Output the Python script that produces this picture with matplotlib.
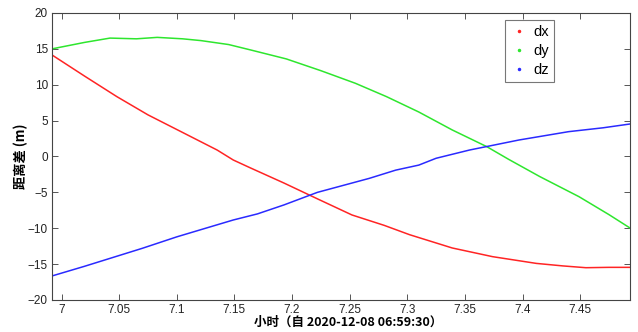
import numpy as np
import matplotlib
matplotlib.use("Agg")
import matplotlib.pyplot as plt
from matplotlib.lines import Line2D

plt.rcParams['font.family'] = ['Liberation Sans', 'Noto Sans CJK SC', 'DejaVu Sans']

# 读图得到的数据 (小时, 米)
dx_t = [6.9917, 7.02, 7.048, 7.075, 7.106, 7.135, 7.149, 7.164, 7.193, 7.222,
        7.252, 7.28, 7.302, 7.339, 7.374, 7.412, 7.435, 7.455, 7.475, 7.4933]
dx_v = [14.15, 11.2, 8.34, 5.8, 3.27, 0.9, -0.49, -1.6, -3.7, -5.9,
        -8.15, -9.6, -10.9, -12.75, -13.96, -14.9, -15.25, -15.5, -15.45, -15.45]

dy_t = [6.9917, 7.02, 7.042, 7.065, 7.083, 7.105, 7.121, 7.145, 7.164, 7.195, 7.225,
        7.255, 7.282, 7.31, 7.339, 7.369, 7.388, 7.415, 7.449, 7.475, 7.4933]
dy_v = [15.0, 15.9, 16.5, 16.4, 16.6, 16.4, 16.15, 15.6, 14.85, 13.6, 11.96,
        10.2, 8.34, 6.2, 3.7, 1.37, -0.4, -2.8, -5.6, -8.1, -9.97]

dz_t = [6.9917, 7.02, 7.042, 7.07, 7.1, 7.125, 7.149, 7.17, 7.193, 7.222,
        7.267, 7.29, 7.31, 7.325, 7.354, 7.397, 7.44, 7.47, 7.4933]
dz_v = [-16.65, -15.3, -14.2, -12.8, -11.2, -10.0, -8.85, -8.0, -6.75, -5.0,
        -3.05, -1.9, -1.2, -0.25, 0.9, 2.3, 3.46, 4.0, 4.53]

labels = ["dx", "dy", "dz"]
colors = ["#ff2424", "#2ee62e", "#2a2aff"]

fig = plt.figure(figsize=(6.38, 3.32), dpi=100)
ax = fig.add_axes([0.0815, 0.0964, 0.906, 0.8645])

for t, v, c in zip([dx_t, dy_t, dz_t], [dx_v, dy_v, dz_v], colors):
    ax.plot(t, v, color=c, lw=1.1)

ax.set_xlim(6.9917, 7.4933)
ax.set_ylim(-20, 20)
ax.set_xticks([7, 7.05, 7.1, 7.15, 7.2, 7.25, 7.3, 7.35, 7.4, 7.45])
ax.set_xticklabels(["7", "7.05", "7.1", "7.15", "7.2", "7.25", "7.3", "7.35", "7.4", "7.45"])
ax.set_yticks(np.arange(-20, 21, 5))
ax.tick_params(direction="in", top=True, right=True, length=4, width=0.7,
               color="#555555", labelsize=8.5, labelcolor="#222222", pad=3)
for s in ax.spines.values():
    s.set_color("#444444")
    s.set_linewidth(0.8)

# 坐标轴标题
fig.text(0.545, 0.028, "小时（自 2020-12-08 06:59:30）", fontsize=9, fontweight="bold",
         family=['Noto Sans CJK SC', 'DejaVu Sans'], ha="center", va="center")
ax.set_ylabel("距离差 (m)", fontsize=9.5, fontweight="bold",
              family=['Noto Sans CJK SC', 'DejaVu Sans'])
ax.yaxis.set_label_coords(-0.042, 0.5)

handles = [Line2D([], [], ls="", marker=".", markersize=3, color=c) for c in colors]
leg = ax.legend(handles, labels, loc="upper right", bbox_to_anchor=(0.8685, 0.9756),
                borderaxespad=0, fontsize=10.5, frameon=True, fancybox=False,
                handlelength=1.2, handletextpad=0.4, borderpad=0.35, labelspacing=0.35)
leg.get_frame().set_edgecolor("#555555")
leg.get_frame().set_linewidth(0.8)

fig.savefig("out.png", dpi=100)
